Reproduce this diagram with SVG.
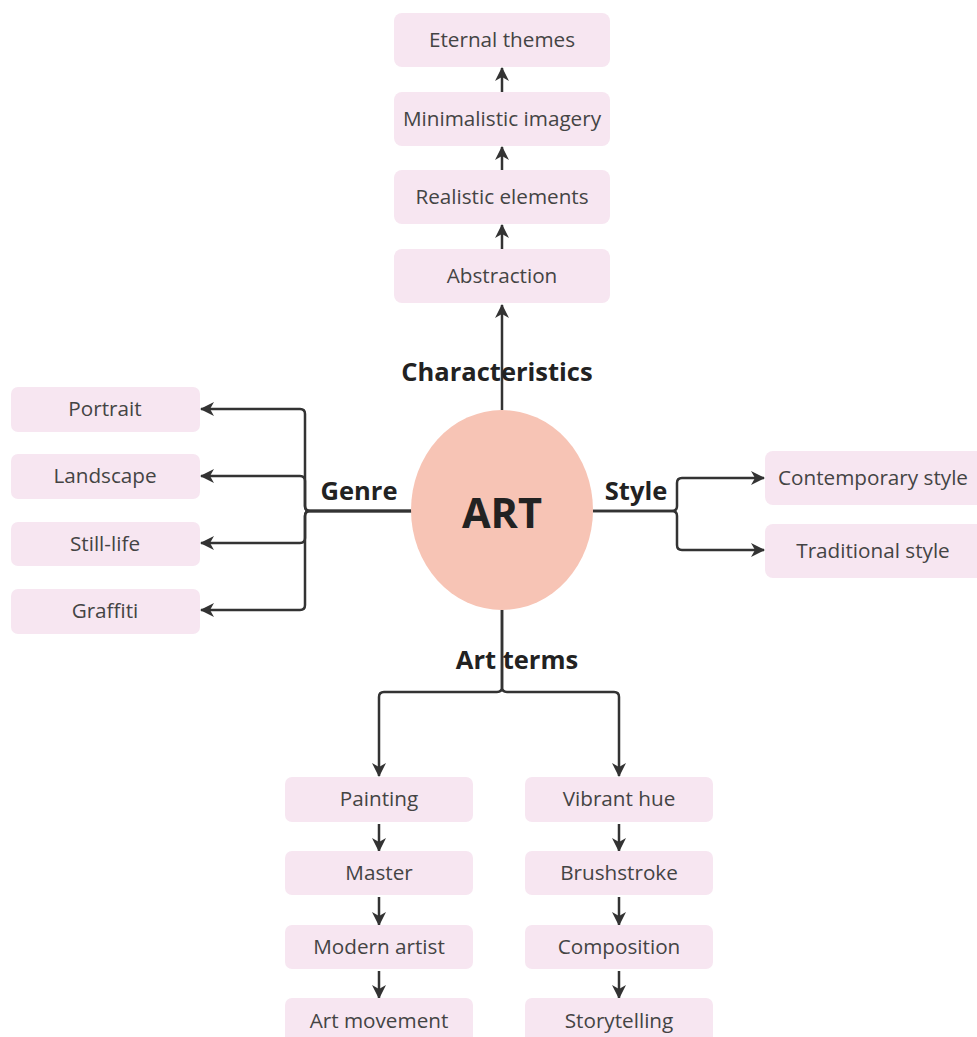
<svg xmlns="http://www.w3.org/2000/svg" width="977" height="1037" viewBox="0 0 977 1037">
<defs>
<marker id="arr" markerUnits="userSpaceOnUse" markerWidth="16" markerHeight="16" refX="13" refY="8" orient="auto">
<path d="M0,1 L14,8 L0,15 L4,8 z" fill="#333"/>
</marker>
<style>
.box{fill:#f7e6f1;}
.t{font-family:"Open Sans","Liberation Sans",sans-serif;font-size:20.7px;fill:#444;text-anchor:middle;}
.lbl{font-family:"Open Sans","Liberation Sans",sans-serif;font-size:25.5px;font-weight:bold;fill:#222;text-anchor:middle;}
.c{fill:none;stroke:#333;stroke-width:2.5;marker-end:url(#arr);}
</style>
</defs>
<rect width="977" height="1037" fill="#fff"/>
<g id="connectors">
<path class="c" d="M502,410 V305"/>
<path class="c" d="M502,249 V225"/>
<path class="c" d="M502,170 V147"/>
<path class="c" d="M502,92 V68"/>
<path class="c" d="M412,511 H310 Q305,511 305,506 V414 Q305,409 300,409 H201"/>
<path class="c" d="M412,511 H310 Q305,511 305,506 V481 Q305,476 300,476 H201"/>
<path class="c" d="M412,511 H310 Q305,511 305,516 V538 Q305,543 300,543 H201"/>
<path class="c" d="M412,511 H310 Q305,511 305,516 V605 Q305,610 300,610 H201"/>
<path class="c" d="M593,511 H672 Q677,511 677,506 V483 Q677,478 682,478 H764"/>
<path class="c" d="M593,511 H672 Q677,511 677,516 V545 Q677,550 682,550 H764"/>
<path class="c" d="M502,610 V687 Q502,692 497,692 H384 Q379,692 379,697 V776"/>
<path class="c" d="M502,610 V687 Q502,692 507,692 H614 Q619,692 619,697 V776"/>
<path class="c" d="M379,824 V851"/>
<path class="c" d="M379,897 V925"/>
<path class="c" d="M379,971 V998"/>
<path class="c" d="M619,824 V851"/>
<path class="c" d="M619,897 V925"/>
<path class="c" d="M619,971 V998"/>
</g>
<g id="art">
<ellipse cx="502" cy="510" rx="91" ry="100" fill="#f7c4b5"/>
<text x="502" y="528" font-family="'Open Sans','Liberation Sans',sans-serif" font-size="41.5" font-weight="bold" fill="#222" text-anchor="middle">ART</text>
</g>
<g id="label-characteristics"><text class="lbl" x="497" y="381">Characteristics</text></g>
<g id="label-genre"><text class="lbl" x="359" y="500">Genre</text></g>
<g id="label-style"><text class="lbl" x="636" y="500">Style</text></g>
<g id="label-artterms"><text class="lbl" x="517" y="669">Art terms</text></g>
<g id="n-eternal"><rect class="box" x="394" y="13" width="216" height="54" rx="8"/><text class="t" x="502" y="47">Eternal themes</text></g>
<g id="n-minimal"><rect class="box" x="394" y="92" width="216" height="54" rx="8"/><text class="t" x="502" y="126">Minimalistic imagery</text></g>
<g id="n-realistic"><rect class="box" x="394" y="170" width="216" height="54" rx="8"/><text class="t" x="502" y="204">Realistic elements</text></g>
<g id="n-abstraction"><rect class="box" x="394" y="249" width="216" height="54" rx="8"/><text class="t" x="502" y="283">Abstraction</text></g>
<g id="n-portrait"><rect class="box" x="11" y="387" width="189" height="45" rx="7"/><text class="t" x="105" y="416">Portrait</text></g>
<g id="n-landscape"><rect class="box" x="11" y="454" width="189" height="45" rx="7"/><text class="t" x="105" y="483">Landscape</text></g>
<g id="n-stilllife"><rect class="box" x="11" y="522" width="189" height="44" rx="7"/><text class="t" x="105" y="551">Still-life</text></g>
<g id="n-graffiti"><rect class="box" x="11" y="589" width="189" height="45" rx="7"/><text class="t" x="105" y="618">Graffiti</text></g>
<g id="n-contemporary"><rect class="box" x="765" y="451" width="220" height="54" rx="8"/><text class="t" x="873" y="485">Contemporary style</text></g>
<g id="n-traditional"><rect class="box" x="765" y="524" width="220" height="54" rx="8"/><text class="t" x="873" y="558">Traditional style</text></g>
<g id="n-painting"><rect class="box" x="285" y="777" width="188" height="45" rx="7"/><text class="t" x="379" y="806">Painting</text></g>
<g id="n-master"><rect class="box" x="285" y="851" width="188" height="44" rx="7"/><text class="t" x="379" y="880">Master</text></g>
<g id="n-modern"><rect class="box" x="285" y="925" width="188" height="44" rx="7"/><text class="t" x="379" y="954">Modern artist</text></g>
<g id="n-movement"><rect class="box" x="285" y="998" width="188" height="45" rx="7"/><text class="t" x="379" y="1028">Art movement</text></g>
<g id="n-vibrant"><rect class="box" x="525" y="777" width="188" height="45" rx="7"/><text class="t" x="619" y="806">Vibrant hue</text></g>
<g id="n-brush"><rect class="box" x="525" y="851" width="188" height="44" rx="7"/><text class="t" x="619" y="880">Brushstroke</text></g>
<g id="n-composition"><rect class="box" x="525" y="925" width="188" height="44" rx="7"/><text class="t" x="619" y="954">Composition</text></g>
<g id="n-story"><rect class="box" x="525" y="998" width="188" height="45" rx="7"/><text class="t" x="619" y="1028">Storytelling</text></g>
</svg>
